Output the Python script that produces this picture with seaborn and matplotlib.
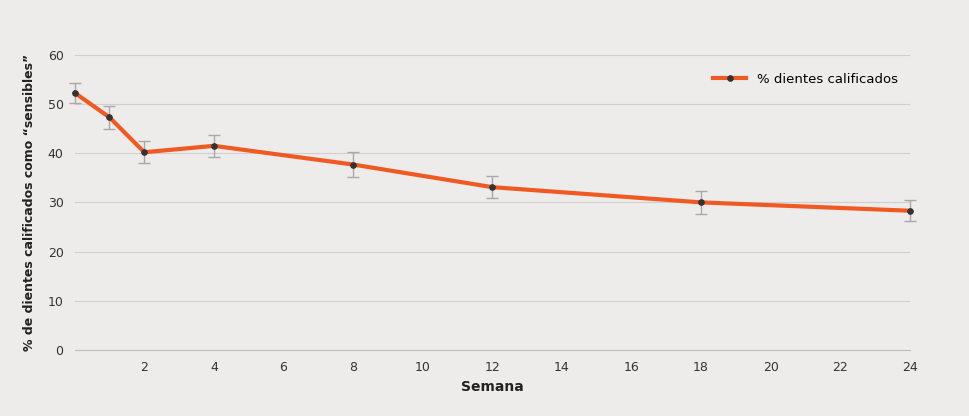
import matplotlib
matplotlib.use("Agg")
import matplotlib.pyplot as plt
import seaborn as sns
import pandas as pd

weeks = [0, 1, 2, 4, 8, 12, 18, 24]
pct_sensitive = [52.3, 47.3, 40.2, 41.5, 37.7, 33.1, 30.0, 28.3]
err = [2.0, 2.3, 2.2, 2.2, 2.5, 2.3, 2.3, 2.1]
xticks = [2, 4, 6, 8, 10, 12, 14, 16, 18, 20, 22, 24]
yticks = [0, 10, 20, 30, 40, 50, 60]

df = pd.DataFrame({"Semana": weeks, "pct": pct_sensitive, "err": err})

bg = "#eeeceb"
orange = "#f05a22"
fig = plt.figure(figsize=(9.7, 4.16), dpi=100, facecolor=bg)
ax = fig.add_axes([0.077, 0.159, 0.861, 0.709], facecolor=bg)

eb = ax.errorbar(df["Semana"], df["pct"], yerr=df["err"], fmt="none",
                 ecolor="#a8a8a8", elinewidth=1, capsize=4, capthick=1, zorder=2)
for artist in eb.lines[1] + eb.lines[2]:
    artist.set_clip_on(False)
sns.lineplot(data=df, x="Semana", y="pct", ax=ax, color=orange, linewidth=3,
             marker="o", markersize=4, markerfacecolor="#333333",
             markeredgecolor="#333333", label="% dientes calificados",
             zorder=3, clip_on=False)

ax.set_xlim(0, 24)
ax.set_ylim(0, 60)
ax.set_xticks(xticks)
ax.set_yticks(yticks)
ax.grid(axis="y", color="#cfcfcf", linewidth=0.8)
ax.set_axisbelow(True)
for s in ["top", "right", "left"]:
    ax.spines[s].set_visible(False)
ax.spines["bottom"].set_color("#bdbdbd")
ax.tick_params(axis="both", length=0, labelsize=9, colors="#333333", pad=8)
ax.set_xlabel("Semana", fontsize=10, fontweight="bold", color="#222222", labelpad=4)
ax.set_ylabel("% de dientes calificados como “sensibles”", fontsize=9,
              fontweight="bold", color="#222222", labelpad=8)
ax.legend(loc="upper right", bbox_to_anchor=(1.0, 0.98), frameon=False,
          fontsize=9.5, handlelength=2.5)

fig.savefig("out.png", dpi=100, facecolor=bg)
